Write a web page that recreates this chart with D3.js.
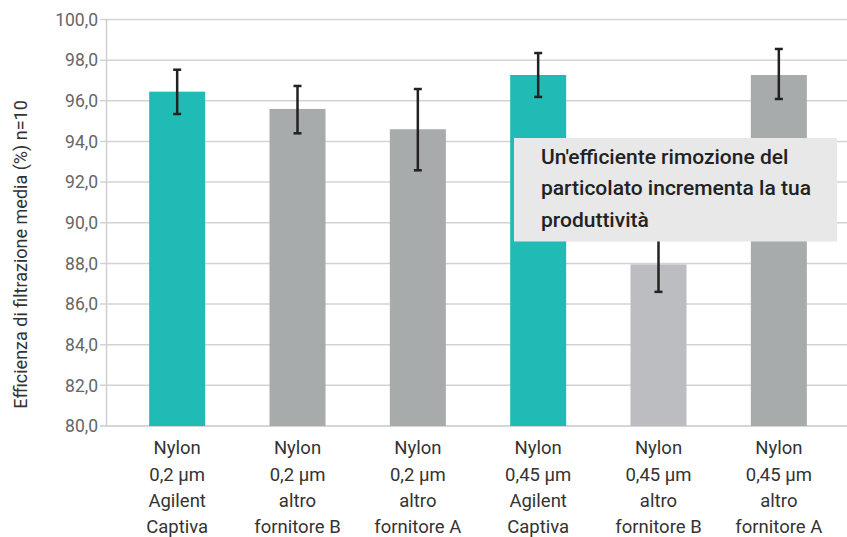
<!DOCTYPE html>
<html><head><meta charset="utf-8">
<script src="https://cdn.jsdelivr.net/npm/d3@7"></script>
<style>body{margin:0;background:#fff}svg{display:block;font-family:Roboto,"Noto Sans",sans-serif}</style>
</head><body><svg id="c" width="847" height="537"></svg>
<script>
const categories = [
  ["Nylon","0,2 µm","Agilent","Captiva"],
  ["Nylon","0,2 µm","altro","fornitore B"],
  ["Nylon","0,2 µm","altro","fornitore A"],
  ["Nylon","0,45 µm","Agilent","Captiva"],
  ["Nylon","0,45 µm","altro","fornitore B"],
  ["Nylon","0,45 µm","altro","fornitore A"]
];
const values = [96.45, 95.6, 94.6, 97.27, 87.95, 97.27];
const errLow = [95.35, 94.4, 92.58, 96.19, 86.6, 96.09];
const errHigh = [97.53, 96.73, 96.58, 98.35, 89.3, 98.55];
const barColors = ["#1fbbb4","#a7abab","#a7abab","#1fbbb4","#bcbdc1","#a7abab"];
const yTicks = [80,82,84,86,88,90,92,94,96,98,100];
const yTitle = "Efficienza di filtrazione media (%) n=10";
const noteLines = ["Un'efficiente rimozione del","particolato incrementa la tua","produttività"];

const svg = d3.select("#c");
const y = d3.scaleLinear().domain([80,100]).range([426,19.5]);
const x = d3.scaleBand().domain(d3.range(categories.length)).range([117,839]);
const bw = 56;
const fmt = v => d3.format(".1f")(v).replace(".",",");

// gridlines
svg.append("g").selectAll("line").data(yTicks).join("line")
  .attr("x1",100).attr("x2",847).attr("y1",d=>y(d)).attr("y2",d=>y(d))
  .attr("stroke",d=>d===80?"#c8c8c8":"#d3d3d3").attr("stroke-width",1.5);
// y axis line
svg.append("line").attr("x1",106.5).attr("x2",106.5).attr("y1",y(100)).attr("y2",y(80))
  .attr("stroke","#cfcfcf").attr("stroke-width",1.5);
// tick labels
svg.append("g").selectAll("text").data(yTicks).join("text")
  .attr("x",98).attr("y",d=>y(d)).attr("dy","0.36em").attr("text-anchor","end")
  .attr("font-size",17.5).attr("fill","#666").text(fmt);
// y title
svg.append("text").attr("transform","translate(26.5,254.5) rotate(-90)")
  .attr("text-anchor","middle").attr("font-size",18).attr("fill","#333").text(yTitle);

// bars
const cx = i => x(i)+x.bandwidth()/2;
svg.append("g").selectAll("rect").data(values).join("rect")
  .attr("x",(d,i)=>cx(i)-bw/2).attr("width",bw)
  .attr("y",d=>y(d)).attr("height",d=>y(80)-y(d))
  .attr("fill",(d,i)=>barColors[i]);

// error bars
const eg = svg.append("g").attr("stroke","#222").attr("stroke-width",2.5);
values.forEach((v,i)=>{
  eg.append("line").attr("x1",cx(i)).attr("x2",cx(i)).attr("y1",y(errLow[i])).attr("y2",y(errHigh[i]));
  [errLow[i],errHigh[i]].forEach(e=>eg.append("line").attr("x1",cx(i)-4).attr("x2",cx(i)+4).attr("y1",y(e)).attr("y2",y(e)));
});

// category labels
categories.forEach((lines,i)=>{
  const t = svg.append("text").attr("text-anchor","middle").attr("font-size",18.5).attr("fill","#333");
  lines.forEach((l,j)=>t.append("tspan").attr("x",cx(i)).attr("y",454.3+j*26.3).text(l));
});

// annotation box
svg.append("rect").attr("x",514).attr("y",138).attr("width",323).attr("height",103.5).attr("fill","#e8e8e8");
const nt = svg.append("text").attr("font-size",21).attr("font-weight",500).attr("fill","#222");
noteLines.forEach((l,j)=>nt.append("tspan").attr("x",541).attr("y",163.5+j*31.5).text(l));
</script></body></html>
